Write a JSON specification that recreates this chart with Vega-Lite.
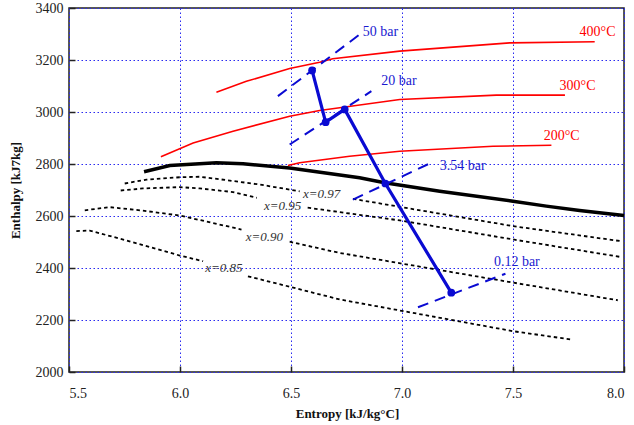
{
  "$schema": "https://vega.github.io/schema/vega-lite/v6.json",
  "width": 555,
  "height": 364,
  "autosize": {"type": "none"},
  "padding": {"left": 69, "top": 8, "right": 10, "bottom": 53},
  "config": {
    "font": "Liberation Serif",
    "view": {"stroke": "#222222", "strokeWidth": 1.5},
    "text": {"font": "Liberation Serif"},
    "axis": {
      "grid": true,
      "gridColor": "#2a2af0",
      "gridDash": [1.5, 2.5],
      "gridWidth": 1,
      "gridOpacity": 1,
      "domain": false,
      "ticks": true,
      "tickSize": -6,
      "tickColor": "#222222",
      "tickWidth": 1.5,
      "labelFont": "Liberation Serif",
      "labelFontSize": 14,
      "labelColor": "#222222",
      "titleFont": "Liberation Serif",
      "titleFontSize": 13,
      "titleFontWeight": "bold",
      "titleColor": "#111111"
    }
  },
  "datasets": {
    "curves": [
      {"g": "sat", "seg": "sat", "s": 5.838, "h": 2770},
      {"g": "sat", "seg": "sat", "s": 5.954, "h": 2794},
      {"g": "sat", "seg": "sat", "s": 6.164, "h": 2805},
      {"g": "sat", "seg": "sat", "s": 6.284, "h": 2801},
      {"g": "sat", "seg": "sat", "s": 6.494, "h": 2785},
      {"g": "sat", "seg": "sat", "s": 6.809, "h": 2747},
      {"g": "sat", "seg": "sat", "s": 6.922, "h": 2728},
      {"g": "sat", "seg": "sat", "s": 7.170, "h": 2695},
      {"g": "sat", "seg": "sat", "s": 7.500, "h": 2657},
      {"g": "sat", "seg": "sat", "s": 7.650, "h": 2638},
      {"g": "sat", "seg": "sat", "s": 7.800, "h": 2621},
      {"g": "sat", "seg": "sat", "s": 8.000, "h": 2602},

      {"g": "T", "seg": "T400", "s": 6.164, "h": 3076},
      {"g": "T", "seg": "T400", "s": 6.299, "h": 3118},
      {"g": "T", "seg": "T400", "s": 6.494, "h": 3167},
      {"g": "T", "seg": "T400", "s": 6.629, "h": 3191},
      {"g": "T", "seg": "T400", "s": 6.688, "h": 3205},
      {"g": "T", "seg": "T400", "s": 6.990, "h": 3234},
      {"g": "T", "seg": "T400", "s": 7.485, "h": 3266},
      {"g": "T", "seg": "T400", "s": 7.868, "h": 3270},

      {"g": "T", "seg": "T300", "s": 5.914, "h": 2828},
      {"g": "T", "seg": "T300", "s": 6.059, "h": 2881},
      {"g": "T", "seg": "T300", "s": 6.239, "h": 2926},
      {"g": "T", "seg": "T300", "s": 6.494, "h": 2984},
      {"g": "T", "seg": "T300", "s": 6.629, "h": 3006},
      {"g": "T", "seg": "T300", "s": 6.990, "h": 3048},
      {"g": "T", "seg": "T300", "s": 7.425, "h": 3065},
      {"g": "T", "seg": "T300", "s": 7.734, "h": 3065},

      {"g": "T", "seg": "T200", "s": 6.486, "h": 2794},
      {"g": "T", "seg": "T200", "s": 6.539, "h": 2805},
      {"g": "T", "seg": "T200", "s": 6.764, "h": 2830},
      {"g": "T", "seg": "T200", "s": 6.990, "h": 2849},
      {"g": "T", "seg": "T200", "s": 7.410, "h": 2868},
      {"g": "T", "seg": "T200", "s": 7.673, "h": 2872},

      {"g": "q", "seg": "q97a", "s": 5.751, "h": 2725},
      {"g": "q", "seg": "q97a", "s": 5.849, "h": 2740},
      {"g": "q", "seg": "q97a", "s": 5.999, "h": 2749},
      {"g": "q", "seg": "q97a", "s": 6.089, "h": 2751},
      {"g": "q", "seg": "q97a", "s": 6.209, "h": 2738},
      {"g": "q", "seg": "q97a", "s": 6.359, "h": 2721},
      {"g": "q", "seg": "q97a", "s": 6.539, "h": 2695},
      {"g": "q", "seg": "q97b", "s": 6.779, "h": 2666},
      {"g": "q", "seg": "q97b", "s": 7.500, "h": 2561},
      {"g": "q", "seg": "q97b", "s": 7.988, "h": 2503},

      {"g": "q", "seg": "q95a", "s": 5.733, "h": 2698},
      {"g": "q", "seg": "q95a", "s": 5.833, "h": 2706},
      {"g": "q", "seg": "q95a", "s": 5.999, "h": 2711},
      {"g": "q", "seg": "q95a", "s": 6.089, "h": 2706},
      {"g": "q", "seg": "q95a", "s": 6.239, "h": 2692},
      {"g": "q", "seg": "q95a", "s": 6.346, "h": 2670},
      {"g": "q", "seg": "q95b", "s": 6.575, "h": 2632},
      {"g": "q", "seg": "q95b", "s": 6.990, "h": 2583},
      {"g": "q", "seg": "q95b", "s": 7.499, "h": 2510},
      {"g": "q", "seg": "q95b", "s": 7.988, "h": 2442},

      {"g": "q", "seg": "q90a", "s": 5.571, "h": 2622},
      {"g": "q", "seg": "q90a", "s": 5.683, "h": 2634},
      {"g": "q", "seg": "q90a", "s": 5.819, "h": 2622},
      {"g": "q", "seg": "q90a", "s": 5.999, "h": 2602},
      {"g": "q", "seg": "q90a", "s": 6.277, "h": 2548},
      {"g": "q", "seg": "q90b", "s": 6.494, "h": 2501},
      {"g": "q", "seg": "q90b", "s": 6.719, "h": 2458},
      {"g": "q", "seg": "q90b", "s": 7.499, "h": 2344},
      {"g": "q", "seg": "q90b", "s": 7.972, "h": 2276},

      {"g": "q", "seg": "q85a", "s": 5.533, "h": 2542},
      {"g": "q", "seg": "q85a", "s": 5.593, "h": 2544},
      {"g": "q", "seg": "q85a", "s": 5.759, "h": 2506},
      {"g": "q", "seg": "q85a", "s": 5.999, "h": 2448},
      {"g": "q", "seg": "q85a", "s": 6.104, "h": 2426},
      {"g": "q", "seg": "q85b", "s": 6.306, "h": 2368},
      {"g": "q", "seg": "q85b", "s": 6.494, "h": 2328},
      {"g": "q", "seg": "q85b", "s": 6.719, "h": 2279},
      {"g": "q", "seg": "q85b", "s": 7.500, "h": 2157},
      {"g": "q", "seg": "q85b", "s": 7.770, "h": 2124},

      {"g": "p", "seg": "p50", "s": 6.441, "h": 3061},
      {"g": "p", "seg": "p50", "s": 6.809, "h": 3298},
      {"g": "p", "seg": "p20", "s": 6.494, "h": 2875},
      {"g": "p", "seg": "p20", "s": 6.862, "h": 3080},
      {"g": "p", "seg": "p354", "s": 6.779, "h": 2663},
      {"g": "p", "seg": "p354", "s": 7.132, "h": 2805},
      {"g": "p", "seg": "p012", "s": 7.072, "h": 2249},
      {"g": "p", "seg": "p012", "s": 7.466, "h": 2378}
    ],
    "process": [
      {"state": "1", "s": 6.595, "h": 3160},
      {"state": "2", "s": 6.656, "h": 2961},
      {"state": "3", "s": 6.742, "h": 3010},
      {"state": "4", "s": 6.925, "h": 2725},
      {"state": "5", "s": 7.222, "h": 2305}
    ],
    "labels": [
      {"g": "bar", "s": 6.823, "h": 3306, "t": "50 bar"},
      {"g": "bar", "s": 6.907, "h": 3118, "t": "20 bar"},
      {"g": "bar", "s": 7.170, "h": 2792, "t": "3.54 bar"},
      {"g": "bar", "s": 7.414, "h": 2422, "t": "0.12 bar"},
      {"g": "T", "s": 7.800, "h": 3306, "t": "400°C"},
      {"g": "T", "s": 7.710, "h": 3099, "t": "300°C"},
      {"g": "T", "s": 7.638, "h": 2907, "t": "200°C"},
      {"g": "q", "s": 6.554, "h": 2685, "t": "x=0.97"},
      {"g": "q", "s": 6.378, "h": 2638, "t": "x=0.95"},
      {"g": "q", "s": 6.296, "h": 2520, "t": "x=0.90"},
      {"g": "q", "s": 6.114, "h": 2401, "t": "x=0.85"}
    ]
  },
  "encoding": {
    "x": {
      "field": "s",
      "type": "quantitative",
      "scale": {"domain": [5.5, 8.0], "nice": false, "zero": false},
      "axis": {
        "title": "Entropy [kJ/kg°C]",
        "values": [5.5, 6.0, 6.5, 7.0, 7.5, 8.0],
        "format": ".1f",
        "labelPadding": 20,
        "labelBaseline": "top",
        "titleX": 278,
        "titleY": 41,
        "titleBaseline": "middle",
        "titleAlign": "center"
      }
    },
    "y": {
      "field": "h",
      "type": "quantitative",
      "scale": {"domain": [2000, 3400], "nice": false, "zero": false},
      "axis": {
        "title": "Enthalpy [kJ7kg]",
        "values": [2000, 2200, 2400, 2600, 2800, 3000, 3200, 3400],
        "format": "d",
        "labelPadding": 12,
        "titleX": -54,
        "titleY": 182,
        "titleAngle": 270,
        "titleBaseline": "middle",
        "titleAlign": "center"
      }
    }
  },
  "layer": [
    {
      "data": {"name": "curves"},
      "transform": [{"filter": "datum.g === 'T'"}],
      "mark": {"type": "line", "color": "#ff0000", "strokeWidth": 1.6},
      "encoding": {"detail": {"field": "seg"}}
    },
    {
      "data": {"name": "curves"},
      "transform": [{"filter": "datum.g === 'q'"}],
      "mark": {"type": "line", "color": "#000000", "strokeWidth": 1.8, "strokeDash": [3.5, 3]},
      "encoding": {"detail": {"field": "seg"}}
    },
    {
      "data": {"name": "curves"},
      "transform": [{"filter": "datum.g === 'sat'"}],
      "mark": {"type": "line", "color": "#000000", "strokeWidth": 3.5},
      "encoding": {"detail": {"field": "seg"}}
    },
    {
      "data": {"name": "curves"},
      "transform": [{"filter": "datum.g === 'p'"}],
      "mark": {"type": "line", "color": "#0a0ad2", "strokeWidth": 2, "strokeDash": [11, 7]},
      "encoding": {"detail": {"field": "seg"}}
    },
    {
      "data": {"name": "process"},
      "mark": {"type": "line", "color": "#0a0ad2", "strokeWidth": 3.2},
      "encoding": {}
    },
    {
      "data": {"name": "process"},
      "mark": {"type": "point", "filled": true, "color": "#0a0ad2", "opacity": 1, "size": 60, "shape": "circle"},
      "encoding": {}
    },
    {
      "data": {"name": "labels"},
      "transform": [{"filter": "datum.g === 'bar'"}],
      "mark": {"type": "text", "align": "left", "baseline": "middle", "fontSize": 14, "color": "#1a1ad0"},
      "encoding": {"text": {"field": "t"}}
    },
    {
      "data": {"name": "labels"},
      "transform": [{"filter": "datum.g === 'T'"}],
      "mark": {"type": "text", "align": "left", "baseline": "middle", "fontSize": 14, "color": "#ff0000"},
      "encoding": {"text": {"field": "t"}}
    },
    {
      "data": {"name": "labels"},
      "transform": [{"filter": "datum.g === 'q'"}],
      "mark": {"type": "text", "align": "left", "baseline": "middle", "fontSize": 13, "fontStyle": "italic", "color": "#333333"},
      "encoding": {"text": {"field": "t"}}
    }
  ]
}
